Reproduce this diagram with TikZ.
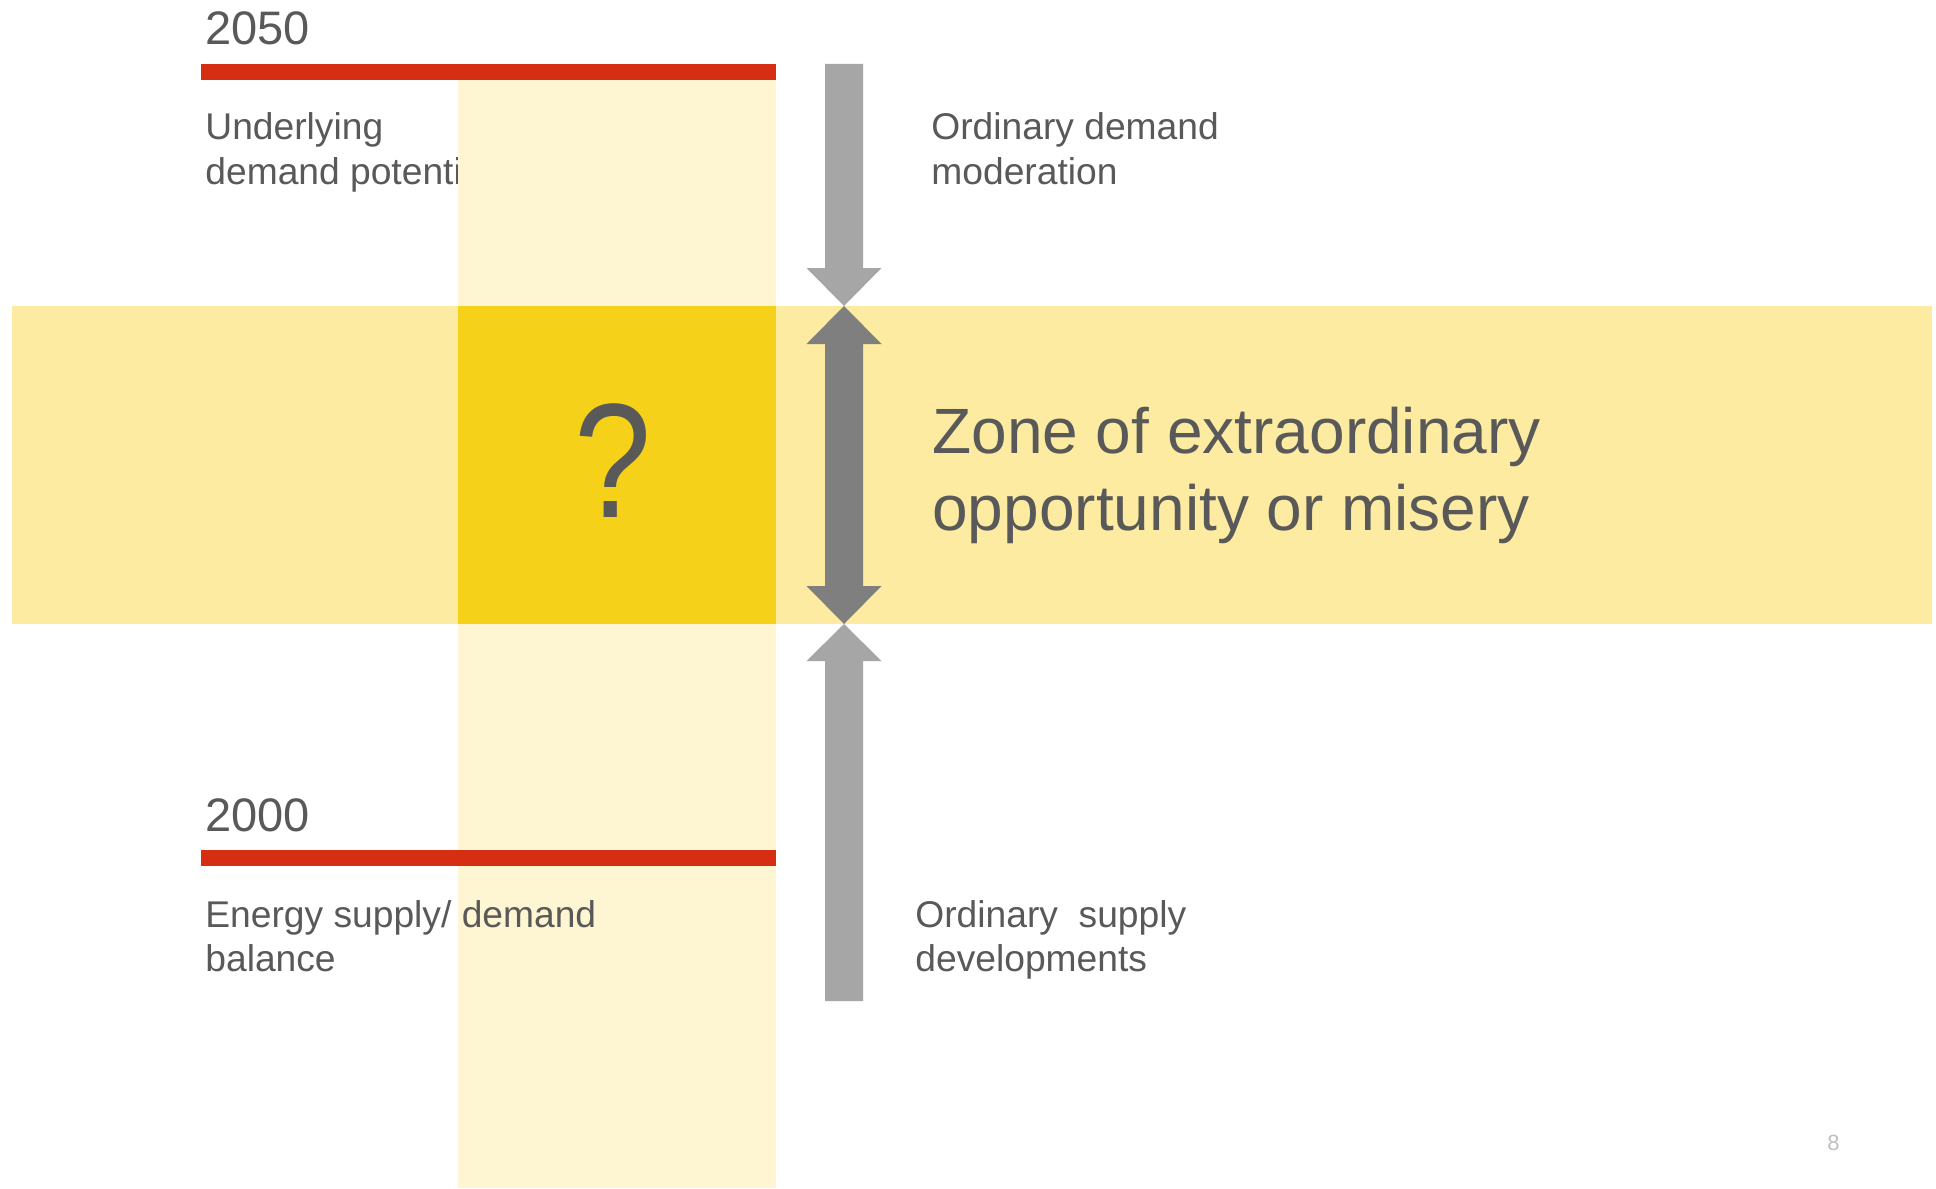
\documentclass[tikz,border=0pt]{standalone}
\usepackage{fontspec}
\setmainfont{Liberation Sans}
\definecolor{barred}{RGB}{213,46,18}
\definecolor{palecol}{RGB}{254,245,210}
\definecolor{bandyel}{RGB}{252,235,161}
\definecolor{darkyel}{RGB}{246,209,25}
\definecolor{arrlight}{RGB}{166,166,166}
\definecolor{arrdark}{RGB}{127,127,127}
\definecolor{txt}{RGB}{89,89,89}
\tikzset{
  lbl/.style={anchor=base west, align=left, text=txt, inner sep=0pt, font=\fontsize{18.6pt}{22pt}\selectfont},
  year/.style={anchor=base west, text=txt, inner sep=0pt, font=\fontsize{23.5pt}{28pt}\selectfont},
  big/.style={anchor=base west, align=left, text=txt, inner sep=0pt, font=\fontsize{32pt}{38.5pt}\selectfont},
}
\begin{document}
\begin{tikzpicture}[x=0.5pt,y=-0.5pt]
\useasboundingbox (0,0) rectangle (1936,1188);
\fill[white] (0,0) rectangle (1936,1188);
% top label (partly hidden by column); base anchor = last line
\node[lbl] (under) at (205,184) {Underlying\\demand potenti};
% pale column
\fill[palecol] (458,80) rectangle (776,1188);
% band
\fill[bandyel] (12,306) rectangle (1932,624);
\fill[darkyel] (458,306) rectangle (776,624);
% red bars
\fill[barred] (201,64) rectangle (776,80);
\fill[barred] (201,850) rectangle (776,866);
% years
\node[year] (y2050) at (205,45) {2050};
\node[year] (y2000) at (205,831) {2000};
% arrows
\fill[arrlight] (825,64) -- (863,64) -- (863,268) -- (881.5,268) -- (844,306) -- (806.5,268) -- (825,268) -- cycle;
\fill[arrdark] (844,306) -- (881.5,344) -- (863,344) -- (863,586) -- (881.5,586) -- (844,624) -- (806.5,586) -- (825,586) -- (825,344) -- (806.5,344) -- cycle;
\fill[arrlight] (844,624) -- (881.5,661) -- (863,661) -- (863,1001) -- (825,1001) -- (825,661) -- (806.5,661) -- cycle;
% labels
\node[lbl] (ordd) at (931,184) {Ordinary demand\\moderation};
\node[lbl] (bal) at (205,971) {Energy supply/ demand\\balance};
\node[lbl] (ords) at (915,971) {Ordinary\ \ supply\\developments};
\node[big] (zone) at (932,530) {Zone of extraordinary\\opportunity or misery};
\node[anchor=base, text=txt, inner sep=0pt, font=\fontsize{81.5pt}{90pt}\selectfont] (q) at (613,517) {\scalebox{0.85}[1]{?}};
\node[anchor=base west, text=black!25, inner sep=0pt, font=\fontsize{11pt}{13pt}\selectfont] (pg) at (1827,1150) {8};
\end{tikzpicture}
\end{document}
